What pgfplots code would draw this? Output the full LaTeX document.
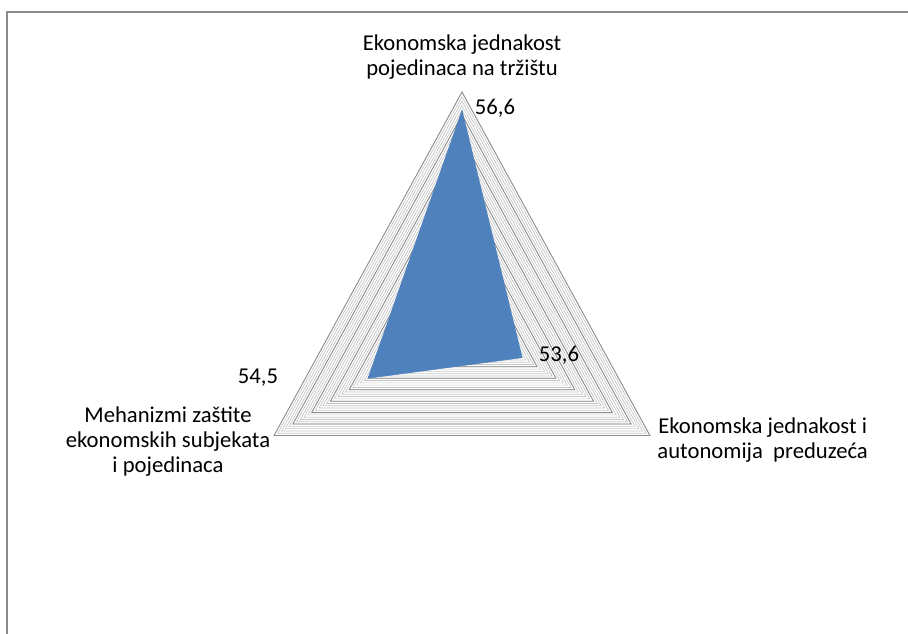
\documentclass[border=0pt]{standalone}
\usepackage{pgfplots}
\pgfplotsset{compat=1.18}
\usepackage{pgfplotstable}
\usepackage{fontspec}
\setmainfont{Carlito}
\definecolor{serblue}{HTML}{4F81BD}
\definecolor{gridminor}{HTML}{C4C4C4}
\definecolor{gridmajor}{HTML}{8C8C8C}
\definecolor{framegray}{HTML}{8C8C8C}

% angle (deg) and value of each category, axis from 52 to 57
\pgfplotstableread{
ang val
90  56.6
-30 53.6
210 54.5
}\radardata

\newcommand{\lbl}{\fontsize{17}{18.75}\selectfont}

\begin{document}
\begin{tikzpicture}
\useasboundingbox (0,0) rectangle (681pt,-474.75pt);
% frame (px * 0.75 pt)
\draw[framegray, line width=1.1pt] (5.25pt,-500pt) -- (5.25pt,-9pt) -- (700pt,-9pt);

\begin{axis}[
  at={(346.5pt,-240.75pt)}, anchor=center,
  x=32.55pt, y=34.35pt,
  xmin=-5.5, xmax=5.5, ymin=-5.5, ymax=5.5,
  hide axis, clip=false,
]
% minor gridlines every 0.1
\pgfplotsinvokeforeach{1,...,50}{
  \draw[gridminor, line width=0.5pt]
    (axis cs:0,{#1/10}) -- (axis cs:{0.8660254*#1/10},{-0.5*#1/10})
    -- (axis cs:{-0.8660254*#1/10},{-0.5*#1/10}) -- cycle;
}
% major gridlines every 0.5
\pgfplotsinvokeforeach{5,10,...,50}{
  \draw[gridmajor, line width=0.6pt]
    (axis cs:0,{#1/10}) -- (axis cs:{0.8660254*#1/10},{-0.5*#1/10})
    -- (axis cs:{-0.8660254*#1/10},{-0.5*#1/10}) -- cycle;
}
\addplot[fill=serblue, draw=serblue, line width=0.4pt]
  table[x expr={(\thisrow{val}-52)*cos(\thisrow{ang})},
        y expr={(\thisrow{val}-52)*sin(\thisrow{ang})}] {\radardata} -- cycle;
\end{axis}

% category labels (baselines in px*0.75)
\node[anchor=base, inner sep=0pt] at (346.5pt,-37.5pt) {\lbl Ekonomska jednakost};
\node[anchor=base, inner sep=0pt] at (346.5pt,-56.25pt) {\lbl pojedinaca na tržištu};

\node[anchor=base, inner sep=0pt] at (572pt,-324.75pt) {\lbl Ekonomska jednakost i};
\node[anchor=base, inner sep=0pt] at (572pt,-343.5pt) {\lbl autonomija\ \ preduzeća};

\node[anchor=base, inner sep=0pt] at (126pt,-316.5pt) {\lbl Mehanizmi zaštite};
\node[anchor=base, inner sep=0pt] at (126pt,-335.25pt) {\lbl ekonomskih subjekata};
\node[anchor=base, inner sep=0pt] at (126pt,-354pt) {\lbl i pojedinaca};

% value labels
\node[anchor=base, inner sep=0pt] at (371.25pt,-85.5pt) {\lbl 56,6};
\node[anchor=base, inner sep=0pt] at (419.25pt,-270.75pt) {\lbl 53,6};
\node[anchor=base, inner sep=0pt] at (193.5pt,-287.25pt) {\lbl 54,5};
\end{tikzpicture}
\end{document}
